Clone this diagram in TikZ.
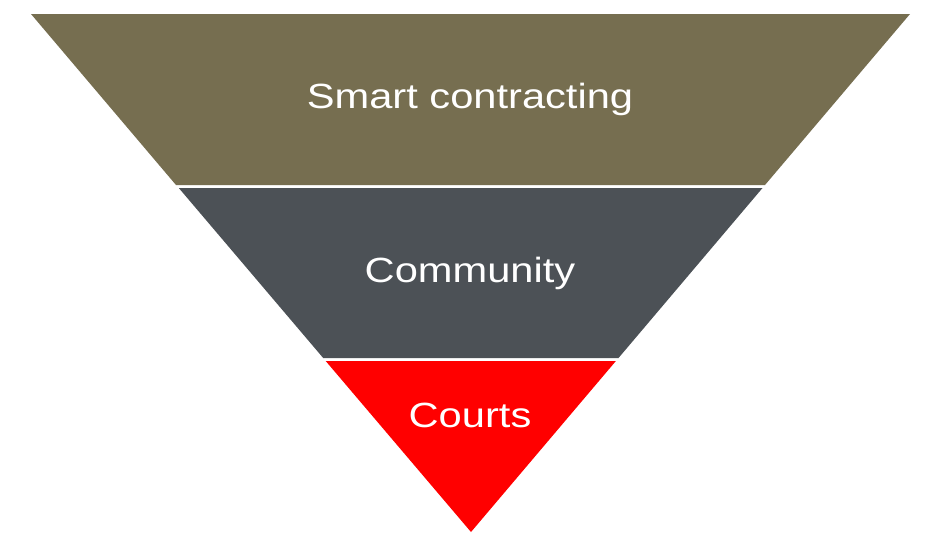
\documentclass[tikz,border=0pt]{standalone}
\usepackage{fontspec}
\newfontfamily\lab[FakeStretch=1.19]{Liberation Sans}
\definecolor{olive}{HTML}{766E50}
\definecolor{slate}{HTML}{4C5156}
\definecolor{brightred}{HTML}{FF0000}
\tikzset{lbl/.style={anchor=base,text=white,inner sep=0pt,font=\lab\fontsize{35}{40}\selectfont}}
\begin{document}
\begin{tikzpicture}[x=1pt,y=-1pt]
\useasboundingbox (0,0) rectangle (940,550);
\fill[white] (0,0) rectangle (940,550);
\fill[olive] (31,14) -- (910,14) -- (765,185) -- (176,185) -- cycle;
\fill[slate] (178.8,188) -- (762.5,188) -- (618.5,358) -- (323.2,358) -- cycle;
\fill[brightred] (325.7,361) -- (615.9,361) -- (471,532) -- cycle;
\node[lbl] (smart) at (470,108) {Smart contracting};
\node[lbl] (community) at (470,282) {Community};
\node[lbl] (courts) at (470,427) {Courts};
\end{tikzpicture}
\end{document}
